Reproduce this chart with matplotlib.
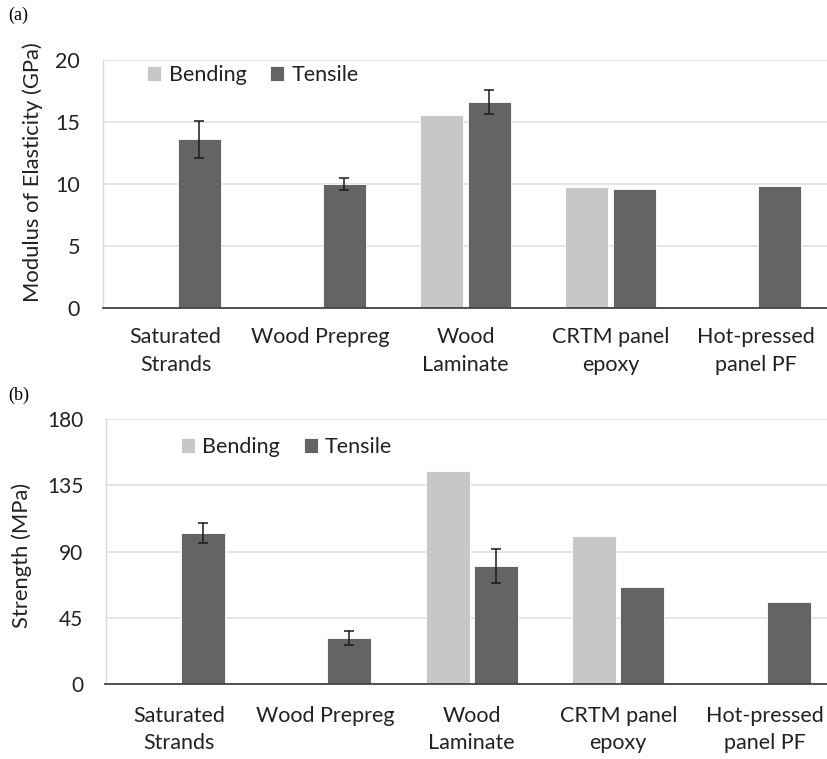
import matplotlib
matplotlib.use("Agg")
import matplotlib.pyplot as plt
import numpy as np

categories = ["Saturated\nStrands", "Wood Prepreg", "Wood\nLaminate", "CRTM panel\nepoxy", "Hot-pressed\npanel PF"]

# (a) Modulus of elasticity, GPa (nan = no bar)
moe_bending = [np.nan, np.nan, 15.55, 9.75, np.nan]
moe_tensile = [13.6, 10.0, 16.6, 9.6, 9.85]
moe_tensile_err = [1.5, 0.45, 0.95, np.nan, np.nan]
moe_ticks = [0, 5, 10, 15, 20]

# (b) Strength, MPa
str_bending = [np.nan, np.nan, 145.0, 100.4, np.nan]
str_tensile = [102.5, 31.5, 80.2, 66.2, 56.0]
str_tensile_err = [6.8, 4.7, 11.5, np.nan, np.nan]
str_ticks = [0, 45, 90, 135, 180]

C_BEND = "#c6c7c9"
C_TENS = "#636466"
FONT = "Lato"
TXT = "#222222"

W, H = 827, 759
fig = plt.figure(figsize=(W / 100, H / 100), dpi=100)


def px_axes(x0, x1, ytop, ybot):
    return fig.add_axes([x0 / W, 1 - ybot / H, (x1 - x0) / W, (ybot - ytop) / H])


def draw(ax, bend, tens, err, ticks, ylabel, labcoords, legloc, tickfs, ypad, xpad):
    x = np.arange(len(categories))
    bw = 0.30
    off = 0.165
    ax.bar(x - off, bend, bw, color=C_BEND, edgecolor="white", linewidth=0.6, label="Bending", zorder=3)
    ax.bar(x + off, tens, bw, color=C_TENS, edgecolor="white", linewidth=0.6, label="Tensile", zorder=3)
    ax.errorbar(x + off, tens, yerr=err, fmt="none", ecolor="#1a1a1a", elinewidth=1.1,
                capsize=3.7, capthick=1.1, zorder=4)
    ax.set_xlim(-0.5, len(categories) - 0.5)
    ax.set_ylim(ticks[0], ticks[-1])
    ax.set_yticks(ticks)
    ax.set_yticklabels([str(t) for t in ticks], fontsize=tickfs, family=FONT, color=TXT)
    ax.set_xticks(x)
    ax.set_xticklabels(categories, fontsize=15.5, family=FONT, color=TXT, linespacing=1.45)
    ax.tick_params(axis="both", length=0)
    ax.tick_params(axis="y", pad=ypad)
    ax.tick_params(axis="x", pad=xpad)
    ax.grid(axis="y", color="#e3e3e3", linewidth=1.3, zorder=0)
    ax.set_axisbelow(True)
    for s in ["top", "right"]:
        ax.spines[s].set_visible(False)
    ax.spines["left"].set_color("#d9d9d9")
    ax.spines["left"].set_linewidth(1.0)
    ax.spines["bottom"].set_color("#444444")
    ax.spines["bottom"].set_linewidth(1.3)
    ax.spines["bottom"].set_zorder(5)
    ax.set_ylabel(ylabel, fontsize=15.8, family=FONT, color=TXT)
    ax.yaxis.set_label_coords(*labcoords)
    leg = ax.legend(loc="center", bbox_to_anchor=legloc, ncol=2, frameon=False,
                    prop={"family": FONT, "size": 15.5}, handlelength=0.65, handleheight=0.65,
                    handletextpad=0.35, columnspacing=1.1)
    for t in leg.get_texts():
        t.set_color(TXT)


ax1 = px_axes(103, 828, 60, 308)
draw(ax1, moe_bending, moe_tensile, moe_tensile_err, moe_ticks,
     "Modulus of Elasticity (GPa)", (-0.083, 0.546), (0.207, 0.94), 15.5, 16.5, 14)

ax2 = px_axes(105.5, 838, 419.3, 684)
draw(ax2, str_bending, str_tensile, str_tensile_err, str_ticks,
     "Strength (MPa)", (-0.100, 0.485), (0.247, 0.895), 15.0, 16.0, 15.5)

fig.text(8 / W, 1 - 15 / H, "(a)", family="Liberation Serif", fontsize=13, va="center", ha="left")
fig.text(8 / W, 1 - 395 / H, "(b)", family="Liberation Serif", fontsize=13, va="center", ha="left")

fig.savefig("out.png", dpi=100)
